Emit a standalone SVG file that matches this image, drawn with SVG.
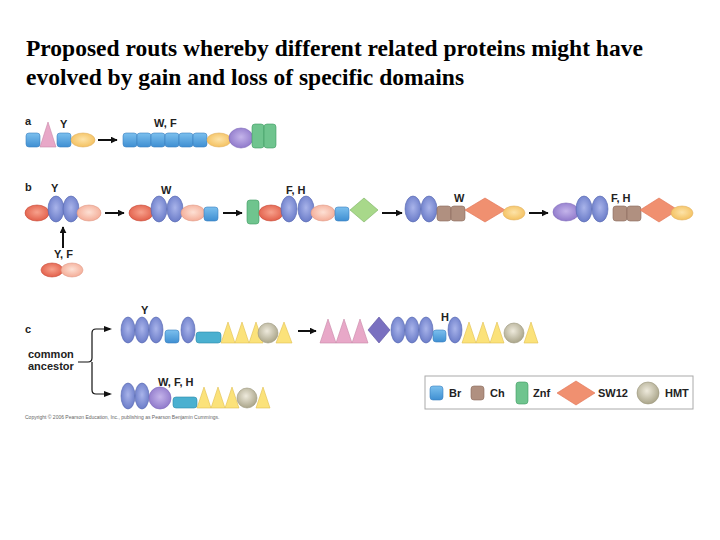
<svg xmlns="http://www.w3.org/2000/svg" width="720" height="540" viewBox="0 0 720 540">
<defs>
<linearGradient id="gb" x1="0" y1="0" x2="0" y2="1"><stop offset="0" stop-color="#7cc0ee"/><stop offset="1" stop-color="#3f8fd2"/></linearGradient>
<radialGradient id="gv" cx="0.5" cy="0.45" r="0.6"><stop offset="0" stop-color="#a9b4ea"/><stop offset="1" stop-color="#6678c6"/></radialGradient>
<radialGradient id="gr" cx="0.5" cy="0.45" r="0.6"><stop offset="0" stop-color="#f7a18c"/><stop offset="1" stop-color="#e05a45"/></radialGradient>
<radialGradient id="gp" cx="0.5" cy="0.45" r="0.6"><stop offset="0" stop-color="#fde0d4"/><stop offset="1" stop-color="#f3a892"/></radialGradient>
<radialGradient id="gy" cx="0.5" cy="0.45" r="0.6"><stop offset="0" stop-color="#fde3a8"/><stop offset="1" stop-color="#f3be5a"/></radialGradient>
<radialGradient id="gu" cx="0.5" cy="0.45" r="0.6"><stop offset="0" stop-color="#c4b4ea"/><stop offset="1" stop-color="#8b74c8"/></radialGradient>
<radialGradient id="gg" cx="0.45" cy="0.4" r="0.6"><stop offset="0" stop-color="#eeeadc"/><stop offset="1" stop-color="#aaa58a"/></radialGradient>
<marker id="ah" viewBox="0 0 10 10" refX="9" refY="5" markerWidth="7" markerHeight="7" orient="auto" markerUnits="userSpaceOnUse"><path d="M0,0L10,5L0,10z" fill="#111"/></marker>
</defs>
<style>
.t{font-family:"Liberation Serif",serif;font-weight:bold;font-size:23.5px;fill:#000}
.l{font-family:"Liberation Sans",Arial,sans-serif;font-weight:bold;font-size:11px;fill:#222}
.br{fill:url(#gb);stroke:#3a7fbf;stroke-width:0.6}
.ch{fill:#b09080;stroke:#8a6a5a;stroke-width:0.6}
.zn{fill:#6fc48e;stroke:#3e9a62;stroke-width:0.6}
.v{fill:url(#gv);stroke:#5566b0;stroke-width:0.6}
.r{fill:url(#gr);stroke:#c84a38;stroke-width:0.6}
.p{fill:url(#gp);stroke:#e09a88;stroke-width:0.6}
.y{fill:url(#gy);stroke:#e0b060;stroke-width:0.6}
.u{fill:url(#gu);stroke:#7a64b8;stroke-width:0.6}
.hm{fill:url(#gg);stroke:#9a957a;stroke-width:0.6}
.sw{fill:#f09070;stroke:#e07050;stroke-width:0.6}
.gd{fill:#a8d88a;stroke:#78b060;stroke-width:0.6}
.pk{fill:#e8a8c8;stroke:#c888a8;stroke-width:0.6}
.dm{fill:#7a70c0;stroke:#5a50a0;stroke-width:0.6}
.tr{fill:#fbe27a;stroke:#e0c050;stroke-width:0.6}
.te{fill:#4ab0d0;stroke:#2a8aaa;stroke-width:0.6}
.a{stroke:#111;stroke-width:2;fill:none}
</style>
<rect width="720" height="540" fill="#fff"/>
<text class="t" x="26" y="56">Proposed routs whereby different related proteins might have</text>
<text class="t" x="26" y="85">evolved by gain and loss of specific domains</text>

<g id="rowA">
<text class="l" x="25" y="125">a</text>
<rect class="br" x="26" y="133" width="14" height="14" rx="3"/>
<path class="pk" d="M40,147L48,122L56,147z"/>
<rect class="br" x="57" y="133" width="14" height="14" rx="3"/>
<ellipse class="y" cx="83" cy="140" rx="12" ry="7"/>
<text class="l" x="60" y="128">Y</text>
<rect class="br" x="123" y="133" width="14" height="14" rx="3"/>
<rect class="br" x="137" y="133" width="14" height="14" rx="3"/>
<rect class="br" x="151" y="133" width="14" height="14" rx="3"/>
<rect class="br" x="165" y="133" width="14" height="14" rx="3"/>
<rect class="br" x="179" y="133" width="14" height="14" rx="3"/>
<rect class="br" x="193" y="133" width="14" height="14" rx="3"/>
<ellipse class="y" cx="219" cy="140" rx="12" ry="7"/>
<ellipse class="u" cx="241" cy="138" rx="12" ry="10"/>
<rect class="zn" x="252" y="124" width="12" height="24" rx="3"/>
<rect class="zn" x="264" y="124" width="12" height="24" rx="3"/>
<text class="l" x="154" y="127">W, F</text>
</g>

<g id="rowB">
<text class="l" x="25" y="191">b</text>
<ellipse class="r" cx="37" cy="213" rx="12" ry="8"/>
<ellipse class="v" cx="56" cy="209" rx="8" ry="13"/>
<ellipse class="v" cx="71" cy="209" rx="8" ry="13"/>
<ellipse class="p" cx="89" cy="213" rx="12" ry="8"/>
<text class="l" x="51" y="192">Y</text>
<ellipse class="r" cx="52" cy="270" rx="11" ry="7"/>
<ellipse class="p" cx="72" cy="270" rx="11" ry="7"/>
<text class="l" x="54" y="258">Y, F</text>
<ellipse class="r" cx="141" cy="213" rx="12" ry="8"/>
<ellipse class="v" cx="159" cy="209" rx="8" ry="13"/>
<ellipse class="v" cx="175" cy="209" rx="8" ry="13"/>
<ellipse class="p" cx="193" cy="213" rx="12" ry="8"/>
<rect class="br" x="204" y="207" width="14" height="14" rx="3"/>
<text class="l" x="161" y="194">W</text>
<rect class="zn" x="247" y="200" width="12" height="24" rx="3"/>
<ellipse class="r" cx="271" cy="213" rx="12" ry="8"/>
<ellipse class="v" cx="289" cy="209" rx="8" ry="13"/>
<ellipse class="v" cx="306" cy="209" rx="8" ry="13"/>
<ellipse class="p" cx="323" cy="213" rx="12" ry="8"/>
<rect class="br" x="335" y="207" width="14" height="14" rx="3"/>
<path class="gd" d="M350,210L364,198L378,210L364,222z"/>
<text class="l" x="286" y="194">F, H</text>
<ellipse class="v" cx="413" cy="209" rx="8" ry="13"/>
<ellipse class="v" cx="429" cy="209" rx="8" ry="13"/>
<rect class="ch" x="437" y="206" width="14" height="15" rx="3"/>
<rect class="ch" x="451" y="206" width="14" height="15" rx="3"/>
<path class="sw" d="M465,210L485,198L505,210L485,222z"/>
<ellipse class="y" cx="514" cy="213" rx="11" ry="7"/>
<text class="l" x="454" y="202">W</text>
<ellipse class="u" cx="566" cy="212" rx="13" ry="9"/>
<ellipse class="v" cx="584" cy="209" rx="8" ry="13"/>
<ellipse class="v" cx="600" cy="209" rx="8" ry="13"/>
<rect class="ch" x="613" y="206" width="14" height="15" rx="3"/>
<rect class="ch" x="627" y="206" width="14" height="15" rx="3"/>
<path class="sw" d="M640,210L659,198L678,210L659,222z"/>
<ellipse class="y" cx="682" cy="213" rx="11" ry="7"/>
<text class="l" x="611" y="202">F, H</text>
</g>

<g id="rowC">
<text class="l" x="25" y="333">c</text>
<text class="l" x="28" y="358">common</text>
<text class="l" x="28" y="370">ancestor</text>
<ellipse class="v" cx="128" cy="330" rx="7" ry="13"/>
<ellipse class="v" cx="142" cy="330" rx="7" ry="13"/>
<ellipse class="v" cx="156" cy="330" rx="7" ry="13"/>
<rect class="br" x="165" y="330" width="14" height="13" rx="3"/>
<ellipse class="v" cx="188" cy="330" rx="7" ry="13"/>
<rect class="te" x="196" y="332" width="25" height="11" rx="3"/>
<path class="tr" d="M221,343L228,322L235,343zM235,343L242,322L249,343zM249,343L256,322L263,343z"/>
<circle class="hm" cx="268" cy="333" r="10"/>
<path class="tr" d="M276,343L284,322L292,343z"/>
<text class="l" x="141" y="314">Y</text>
<path class="pk" d="M320,343L328,319L336,343zM336,343L344,319L352,343zM352,343L360,319L368,343z"/>
<path class="dm" d="M368,330L379,317L390,330L379,343z"/>
<ellipse class="v" cx="398" cy="330" rx="7" ry="13"/>
<ellipse class="v" cx="412" cy="330" rx="7" ry="13"/>
<ellipse class="v" cx="426" cy="330" rx="7" ry="13"/>
<rect class="br" x="433" y="330" width="13" height="12" rx="3"/>
<ellipse class="v" cx="455" cy="330" rx="7" ry="13"/>
<path class="tr" d="M462,343L469,322L476,343zM476,343L483,322L490,343zM490,343L497,322L504,343z"/>
<circle class="hm" cx="514" cy="333" r="10"/>
<path class="tr" d="M524,343L531,322L538,343z"/>
<text class="l" x="441" y="321">H</text>
<ellipse class="v" cx="128" cy="396" rx="7" ry="13"/>
<ellipse class="v" cx="142" cy="396" rx="7" ry="13"/>
<ellipse class="u" cx="160" cy="398" rx="11" ry="11"/>
<rect class="te" x="173" y="397" width="24" height="11" rx="3"/>
<path class="tr" d="M197,408L204,387L211,408zM211,408L218,387L225,408zM225,408L232,387L239,408z"/>
<circle class="hm" cx="247" cy="398" r="10"/>
<path class="tr" d="M256,408L263,387L270,408z"/>
<text class="l" x="158" y="386">W, F, H</text>
<text x="25" y="419" font-family="Liberation Sans,Arial,sans-serif" font-size="5" fill="#666">Copyright © 2006 Pearson Education, Inc., publishing as Pearson Benjamin Cummings.</text>
</g>

<g id="connectors">
<line class="a" x1="98" y1="140" x2="117" y2="140" marker-end="url(#ah)"/>
<line class="a" x1="105" y1="213" x2="124" y2="213" marker-end="url(#ah)"/>
<line class="a" x1="223" y1="213" x2="242" y2="213" marker-end="url(#ah)"/>
<line class="a" x1="382" y1="213" x2="402" y2="213" marker-end="url(#ah)"/>
<line class="a" x1="529" y1="213" x2="548" y2="213" marker-end="url(#ah)"/>
<line class="a" x1="63" y1="248" x2="63" y2="227" marker-end="url(#ah)"/>
<line class="a" x1="298" y1="331" x2="316" y2="331" marker-end="url(#ah)"/>
<path d="M78,362H88Q92,362 92,358V333Q92,329 96,329H110M92,362V390Q92,394 96,394H110" stroke="#111" stroke-width="1.2" fill="none"/>
<path d="M104,326L112,329L104,332z M104,391L112,394L104,397z" fill="#111"/>
</g>

<g id="legend">
<rect x="425" y="376" width="268" height="33" fill="#fff" stroke="#aaa" stroke-width="1"/>
<rect class="br" x="430" y="386" width="13" height="14" rx="3"/>
<text class="l" x="449" y="397">Br</text>
<rect class="ch" x="471" y="386" width="13" height="14" rx="3"/>
<text class="l" x="490" y="397">Ch</text>
<rect class="zn" x="516" y="382" width="12" height="22" rx="3"/>
<text class="l" x="533" y="397">Znf</text>
<path class="sw" d="M557,393L576,381L595,393L576,405z"/>
<text class="l" x="598" y="397">SW12</text>
<circle class="hm" cx="648" cy="393" r="11"/>
<text class="l" x="665" y="397">HMT</text>
</g>
</svg>
